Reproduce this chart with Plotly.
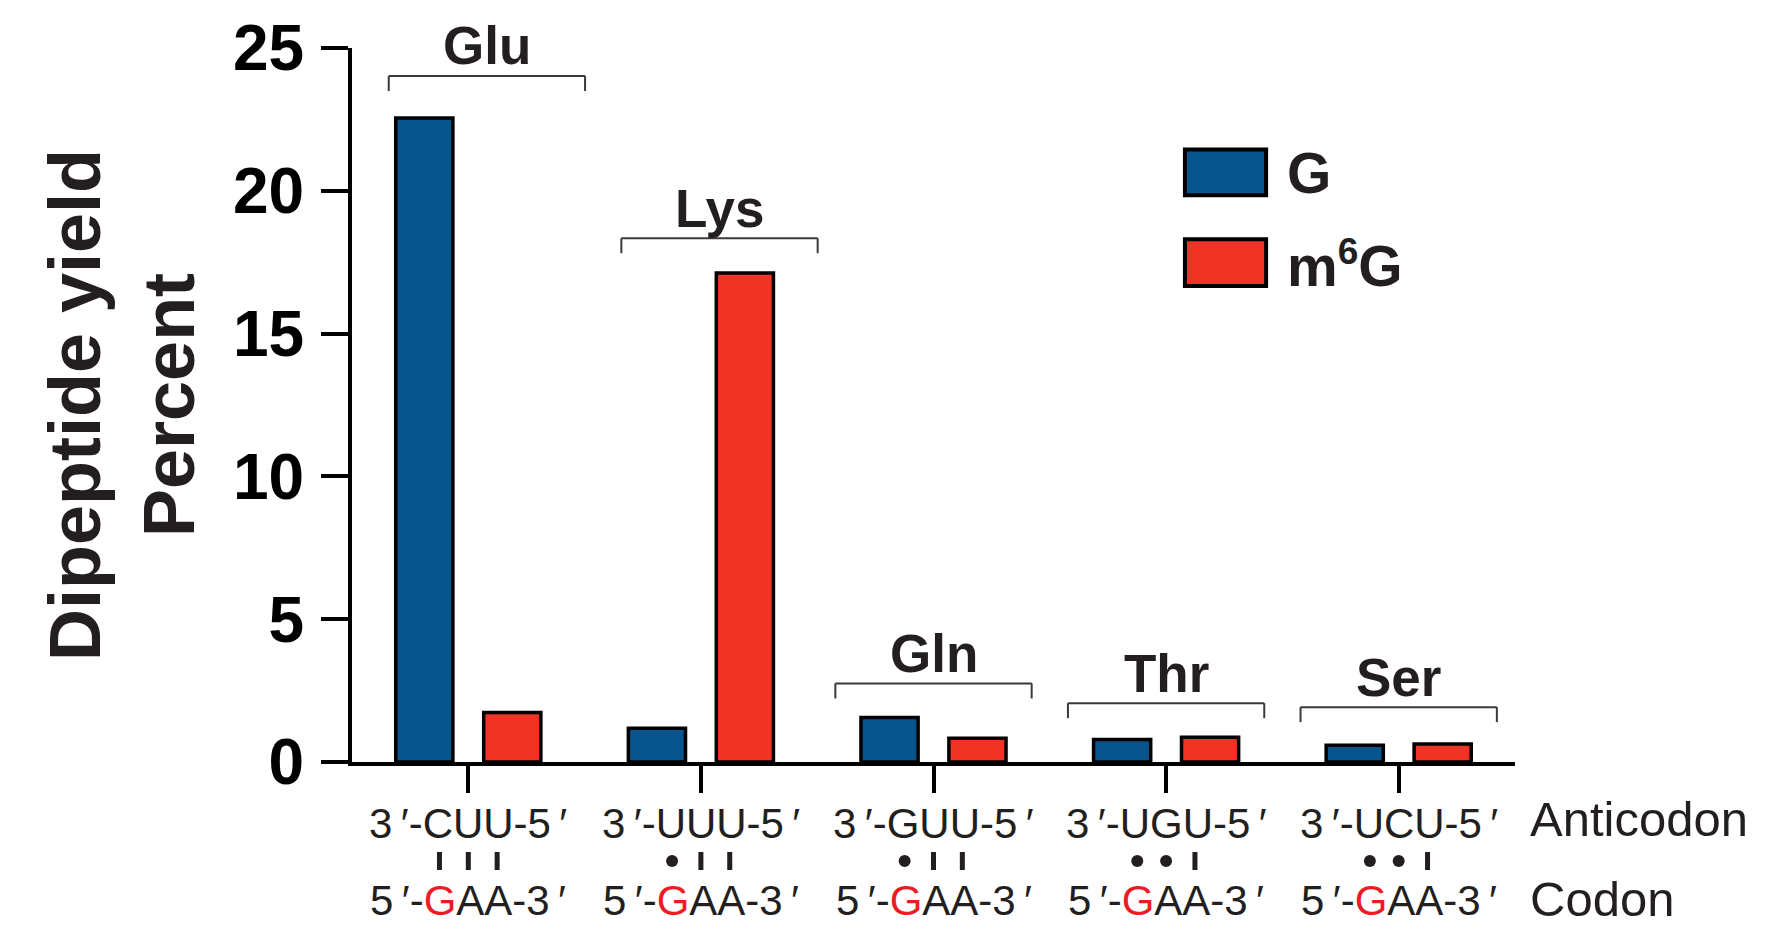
import plotly.graph_objects as go

# ---------------- data ----------------
categories = ["Glu", "Lys", "Gln", "Thr", "Ser"]
g_values = [22.55, 1.18, 1.56, 0.79, 0.59]
m6g_values = [1.73, 17.12, 0.83, 0.87, 0.63]
anticodons = ["3\u2009′-CUU-5\u2009′", "3\u2009′-UUU-5\u2009′", "3\u2009′-GUU-5\u2009′",
              "3\u2009′-UGU-5\u2009′", "3\u2009′-UCU-5\u2009′"]
codon_head = "5\u2009′-"
codon_red = "G"
codon_rest = "AA-3\u2009′"
pairings = [["|", "|", "|"], ["•", "|", "|"], ["•", "|", "|"], ["•", "•", "|"], ["•", "•", "|"]]
bracket_levels = [24.02, 18.34, 2.75, 2.06, 1.92]
bracket_offsets = [0.08, 0.08, 0.0, 0.0, 0.0]
y_ticks = [0, 5, 10, 15, 20, 25]
series_names = ["G", "m<span style='font-size:53px'><sup>6</sup></span>G"]

BLUE = "#07548f"
RED = "#ef3324"
INK = "#231f20"
GRED = "#ed1c24"

fig = go.Figure()
fig.add_trace(go.Bar(x=categories, y=g_values, name="G",
                     marker=dict(color=BLUE, line=dict(color="black", width=3.5)), showlegend=False))
fig.add_trace(go.Bar(x=categories, y=m6g_values, name="m6G",
                     marker=dict(color=RED, line=dict(color="black", width=3.5)), showlegend=False))

shapes = []
annotations = []

# group brackets + labels
for i, (lvl, off) in enumerate(zip(bracket_levels, bracket_offsets)):
    c = i + off
    x0, x1 = c - 0.422, c + 0.422
    ln = dict(color="#3a3a3a", width=2)
    shapes.append(dict(type="line", xref="x", yref="y", x0=x0, x1=x1, y0=lvl, y1=lvl, line=ln))
    for xx in (x0, x1):
        shapes.append(dict(type="line", xref="x", yref="y", ysizemode="pixel", yanchor=lvl,
                           x0=xx, x1=xx, y0=0, y1=-15, line=ln))
    annotations.append(dict(x=c, y=lvl, xref="x", yref="y", text=categories[i], showarrow=False,
                            yanchor="middle", yshift=30,
                            font=dict(family="Liberation Sans", size=53, color=INK, weight="bold")))

# anticodon / codon rows
row_font = dict(family="Liberation Sans", size=42, color=INK)
for i in range(len(categories)):
    annotations.append(dict(x=i, y=0, xref="x", yref="paper", text=anticodons[i], showarrow=False,
                            yanchor="middle", yshift=-61, font=row_font))
    annotations.append(dict(x=i, y=0, xref="x", yref="paper",
                            text="%s<span style='color:%s'>%s</span>%s" % (codon_head, GRED, codon_red, codon_rest),
                            showarrow=False, yanchor="middle", yshift=-138, font=row_font))
    for j, p in enumerate(pairings[i]):
        xc = i + (j - 1) * 0.124
        if p == "|":
            shapes.append(dict(type="rect", xref="x", yref="paper", xsizemode="pixel", xanchor=xc,
                               ysizemode="pixel", yanchor=0, x0=-2.5, x1=2.5, y0=-90, y1=-108,
                               fillcolor=INK, line=dict(width=0)))
        else:
            shapes.append(dict(type="circle", xref="x", yref="paper", xsizemode="pixel", xanchor=xc,
                               ysizemode="pixel", yanchor=0, x0=-6, x1=6, y0=-93, y1=-105,
                               fillcolor=INK, line=dict(width=0)))

side_font = dict(family="Liberation Sans", size=49, color=INK)
annotations.append(dict(x=1, y=0, xref="paper", yref="paper", text="Anticodon", showarrow=False,
                        xanchor="left", yanchor="middle", xshift=13, yshift=-57, font=side_font))
annotations.append(dict(x=1, y=0, xref="paper", yref="paper", text="Codon", showarrow=False,
                        xanchor="left", yanchor="middle", xshift=13, yshift=-137, font=side_font))

# y-axis title
annotations.append(dict(x=0, y=0.5, xref="paper", yref="paper", text="Dipeptide yield<br>Percent",
                        showarrow=False, textangle=-90, xanchor="center", yanchor="middle", xshift=-230,
                        font=dict(family="Liberation Sans", size=72, color=INK, weight="bold")))

# custom legend
leg_boxes = [(0.7936, 0.8577, BLUE), (0.6667, 0.7322, RED)]
leg_text_y = [0.8243, 0.6974]
for (y0, y1, col), ty, nm in zip(leg_boxes, leg_text_y, series_names):
    shapes.append(dict(type="rect", xref="paper", yref="paper", x0=0.7162, x1=0.7860, y0=y0, y1=y1,
                       fillcolor=col, line=dict(color="black", width=4)))
    annotations.append(dict(x=0.8065, y=ty, xref="paper", yref="paper", text=nm, showarrow=False,
                            xanchor="left", yanchor="middle", xshift=-5,
                            font=dict(family="Liberation Sans", size=57, color=INK, weight="bold")))

fig.update_layout(
    width=1766, height=930,
    margin=dict(l=352, r=251, t=45, b=168),
    paper_bgcolor="white", plot_bgcolor="white",
    barmode="group", bargap=0.244, bargroupgap=0.35,
    shapes=shapes, annotations=annotations,
    showlegend=False,
)
fig.update_xaxes(range=[-0.5, 4.5], showline=True, linecolor="black", linewidth=4,
                 ticks="outside", ticklen=27, tickwidth=4, tickcolor="black",
                 showticklabels=False, showgrid=False, zeroline=False)
fig.update_yaxes(range=[0, 25], tickvals=y_ticks, showline=True, linecolor="black", linewidth=4,
                 ticks="outside", ticklen=27, tickwidth=4, tickcolor="black",
                 tickfont=dict(family="Liberation Sans", size=64, color="black", weight="bold"),
                 ticklabelstandoff=4, showgrid=False, zeroline=False)

fig.write_html("out.html", post_script="document.body.style.margin='0';",
               config={"displayModeBar": False})
